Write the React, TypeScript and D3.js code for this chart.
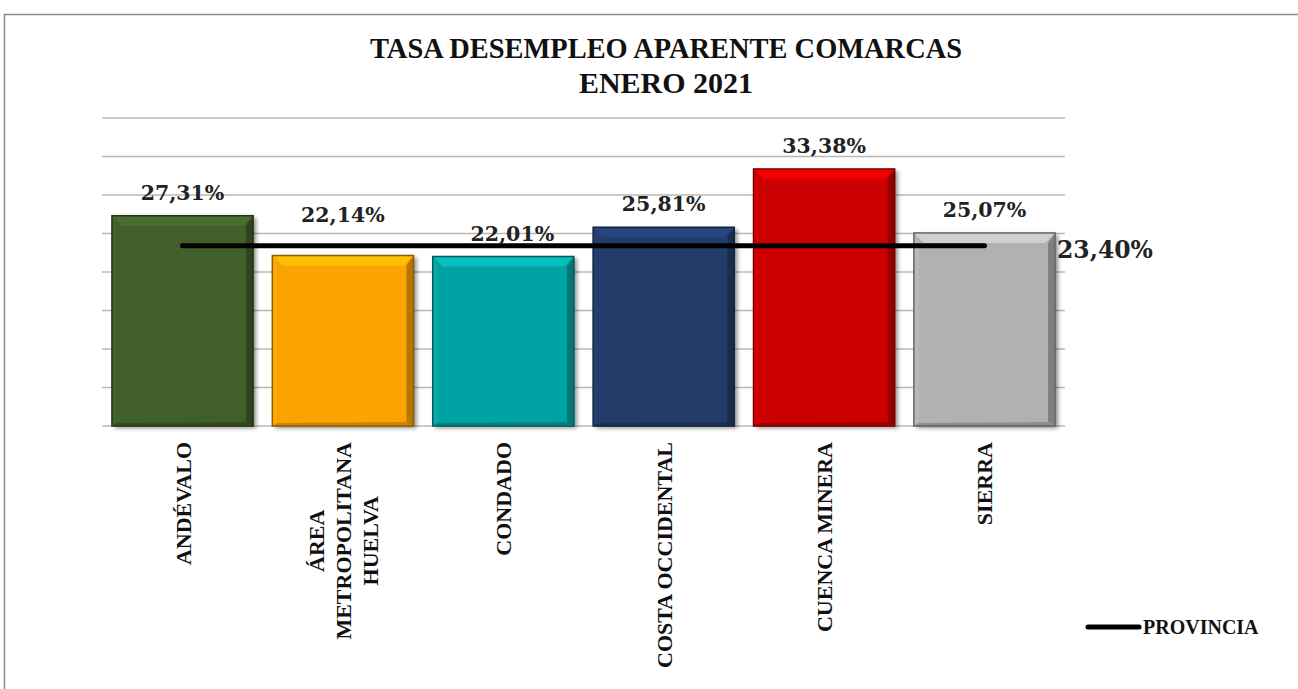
import React, { useEffect, useRef } from "react";
import * as d3 from "d3";

const categories: string[][] = [
  ["ANDÉVALO"],
  ["ÁREA", "METROPOLITANA", "HUELVA"],
  ["CONDADO"],
  ["COSTA OCCIDENTAL"],
  ["CUENCA MINERA"],
  ["SIERRA"],
];
const values = [27.31, 22.14, 22.01, 25.81, 33.38, 25.07];
const provincia = 23.4;
const colors = ["#3f5e2a", "#fba304", "#06a3a3", "#213c6b", "#cc0000", "#b1b1b1"];
const yTicks = [0, 5, 10, 15, 20, 25, 30, 35, 40];
const titleLines = ["TASA DESEMPLEO APARENTE COMARCAS", "ENERO 2021"];
const legendLabel = "PROVINCIA";

const fmt = (v: number) => v.toFixed(2).replace(".", ",") + "%";

export default function App() {
  const ref = useRef<SVGSVGElement | null>(null);

  useEffect(() => {
    const svg = d3.select(ref.current!);
    svg.selectAll("*").remove();
    const W = 1298, H = 689;
    const keys = categories.map((c) => c.join(" "));

    const x = d3.scaleBand<string>().domain(keys).range([102, 1065]).paddingInner(0.12).paddingOuter(0.062);
    const y = d3.scaleLinear().domain([0, 40]).range([426, 118]);

    const defs = svg.append("defs");
    const f = defs.append("filter").attr("id", "shadow").attr("x", "-10%").attr("y", "-10%").attr("width", "130%").attr("height", "130%");
    f.append("feDropShadow").attr("dx", 3).attr("dy", 2).attr("stdDeviation", 2).attr("flood-color", "#000").attr("flood-opacity", 0.45);

    svg.append("rect").attr("x", 0).attr("y", 0).attr("width", W).attr("height", H).attr("fill", "#fff");
    // frame
    svg.append("rect").attr("x", 4.5).attr("y", 14.5).attr("width", W + 20).attr("height", H + 20)
      .attr("fill", "none").attr("stroke", "#8a8a8a").attr("stroke-width", 1.5);

    // title
    const title = svg.append("text").attr("text-anchor", "middle")
      .attr("font-family", "'Liberation Serif', serif").attr("font-weight", "bold").attr("font-size", 30).attr("fill", "#111");
    titleLines.forEach((t, i) => {
      const s = title.append("tspan").attr("x", 666).attr("y", 58 + i * 35).text(t);
      if (i === 0) s.attr("textLength", 592).attr("lengthAdjust", "spacingAndGlyphs");
    });

    // gridlines
    svg.append("g").selectAll("line").data(yTicks).join("line")
      .attr("x1", 102).attr("x2", 1065)
      .attr("y1", (d) => y(d)).attr("y2", (d) => y(d))
      .attr("stroke", "#b8b8b8").attr("stroke-width", 1.5);

    // bars
    const bw = x.bandwidth();
    const bev = 10;
    const bars = svg.append("g").selectAll("g").data(values).join("g");
    bars.each(function (v, i) {
      const g = d3.select(this);
      const x0 = x(keys[i])!;
      const x1 = x0 + bw;
      const y0 = y(v);
      const y1 = y(0);
      const c = d3.color(colors[i])!;
      g.append("rect").attr("x", x0).attr("y", y0).attr("width", bw).attr("height", y1 - y0)
        .attr("fill", colors[i]).attr("filter", "url(#shadow)");
      const poly = (pts: number[][], fill: string) =>
        g.append("polygon").attr("points", pts.map((p) => p.join(",")).join(" ")).attr("fill", fill);
      poly([[x0, y0], [x1, y0], [x1 - bev, y0 + bev], [x0 + bev, y0 + bev]], c.brighter(0.45).toString());
      poly([[x0, y0], [x0 + bev * 0.5, y0 + bev], [x0 + bev * 0.5, y1 - bev * 0.3], [x0, y1]], c.brighter(0.12).toString());
      poly([[x1, y0], [x1 - bev * 0.7, y0 + bev], [x1 - bev * 0.7, y1 - bev * 0.4], [x1, y1]], c.darker(0.9).toString());
      poly([[x0, y1], [x0 + bev * 0.5, y1 - bev * 0.3], [x1 - bev * 0.7, y1 - bev * 0.4], [x1, y1]], c.darker(0.6).toString());
      g.append("rect").attr("x", x0).attr("y", y0).attr("width", bw).attr("height", y1 - y0)
        .attr("fill", "none").attr("stroke", c.darker(1.6).toString()).attr("stroke-width", 1.5);
    });

    // provincia line
    const line = d3.line<string>().x((k) => x(k)! + bw / 2).y(() => y(provincia));
    svg.append("path").attr("d", line([keys[0], keys[keys.length - 1]])!)
      .attr("fill", "none").attr("stroke", "#000").attr("stroke-width", 5).attr("stroke-linecap", "round");

    // value labels
    const lift: Record<string, number> = { "ÁREA METROPOLITANA HUELVA": 18 };
    const shiftX: Record<string, number> = { CONDADO: 9 };
    svg.append("g").selectAll("text").data(values).join("text")
      .attr("x", (d, i) => x(keys[i])! + bw / 2 + (shiftX[keys[i]] || 0))
      .attr("y", (d, i) => y(d) - 16 - (lift[keys[i]] || 0))
      .attr("text-anchor", "middle")
      .attr("font-family", "'DejaVu Serif', serif").attr("font-weight", "bold").attr("font-size", 20.5).attr("fill", "#222")
      .text((d) => fmt(d));

    svg.append("text").attr("x", 1057).attr("y", y(provincia) + 12)
      .attr("font-family", "'DejaVu Serif', serif").attr("font-weight", "bold").attr("font-size", 23.5).attr("fill", "#222")
      .text(fmt(provincia));

    // category labels
    const lineGap = 27;
    const top = 442;
    categories.forEach((lines, i) => {
      const cx = x(keys[i])! + bw / 2;
      const t = svg.append("text")
        .attr("font-family", "'Liberation Serif', serif").attr("font-weight", "bold").attr("font-size", 22).attr("fill", "#111")
        .attr("text-anchor", "middle").attr("dominant-baseline", "central");
      const spans = lines.map((l) => t.append("tspan").text(l));
      const lens = spans.map((s) => (s.node() as SVGTSpanElement).getComputedTextLength());
      const maxLen = d3.max(lens) || 0;
      const n = lines.length;
      t.attr("transform", `translate(${cx},${top + maxLen / 2}) rotate(-90)`);
      spans.forEach((s, j) => s.attr("x", 0).attr("y", (j - (n - 1) / 2) * lineGap));
    });

    // legend
    svg.append("line").attr("x1", 1088).attr("x2", 1139).attr("y1", 627).attr("y2", 627)
      .attr("stroke", "#000").attr("stroke-width", 5).attr("stroke-linecap", "round");
    svg.append("text").attr("x", 1143).attr("y", 627).attr("dominant-baseline", "central")
      .attr("font-family", "'Liberation Serif', serif").attr("font-weight", "bold").attr("font-size", 20).attr("fill", "#111")
      .text(legendLabel);
  }, []);

  return (
    <svg ref={ref} width={1298} height={689} style={{ position: "absolute", left: 0, top: 0 }} />
  );
}
